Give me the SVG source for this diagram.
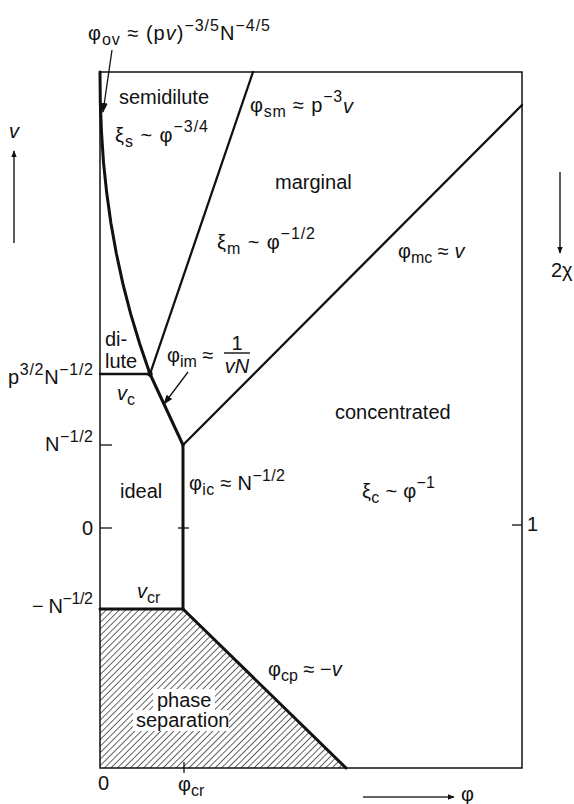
<svg xmlns="http://www.w3.org/2000/svg" width="574" height="804" viewBox="0 0 574 804">
<style>
.t{font-family:"Liberation Sans",Arial,Helvetica,sans-serif;font-size:20px;fill:#111}
.s{font-size:16px}
.i{font-style:italic}
.frame{fill:none;stroke:#111;stroke-width:1.5}
.b{fill:none;stroke:#111;stroke-width:2.3;stroke-linecap:round}
.bb{fill:none;stroke:#111;stroke-width:3;stroke-linecap:round}
.thin{fill:none;stroke:#111;stroke-width:1.3}
.ax{fill:none;stroke:#333;stroke-width:1.6}
</style>
<defs>
<pattern id="hatch" patternUnits="userSpaceOnUse" width="4.6" height="4.6" patternTransform="rotate(45)">
<line x1="0" y1="0" x2="0" y2="4.6" stroke="#111" stroke-width="1.3"/>
</pattern>
<marker id="ah" viewBox="0 0 10 10" refX="9" refY="5" markerWidth="7" markerHeight="7" markerUnits="userSpaceOnUse" orient="auto">
<path d="M0,1 L10,5 L0,9 Z" fill="#111"/>
</marker>
<marker id="ah2" viewBox="0 0 10 10" refX="9" refY="5" markerWidth="10" markerHeight="10" markerUnits="userSpaceOnUse" orient="auto">
<path d="M0,1.5 L10,5 L0,8.5 Z" fill="#111"/>
</marker>
</defs>

<g id="phase-separation">
<polygon points="100,609 183,609 346,768 100,768" fill="url(#hatch)"/>
<rect x="153" y="689" width="62" height="22" fill="#fff"/>
<rect x="133" y="710" width="96" height="21" fill="#fff"/>
</g>

<g id="frame">
<rect class="frame" x="100" y="72" width="422" height="696"/>
</g>

<g id="connectors">
<path class="bb" d="M150,374 L139.7,343.8 L130.6,313.6 L122.8,283.4 L116.3,253.2 L110.9,223 L106.7,192.8 L103.5,162.6 L101.5,132.4 L100.3,102.2 L100,72"/>
<line class="b" x1="253" y1="72" x2="150" y2="374"/>
<line class="b" x1="100" y1="374" x2="150" y2="374"/>
<line class="bb" x1="150" y1="374" x2="183" y2="445"/>
<line class="b" x1="183" y1="445" x2="522" y2="105"/>
<line class="bb" x1="183" y1="445" x2="183" y2="609"/>
<line class="bb" x1="100" y1="609" x2="183" y2="609"/>
<line class="bb" x1="183" y1="609" x2="346" y2="768"/>
<circle cx="150" cy="374" r="2.7" fill="#111"/>
<line class="thin" x1="100" y1="445" x2="112" y2="445"/>
<line class="thin" x1="100" y1="528" x2="112" y2="528"/>
<line class="thin" x1="178" y1="528" x2="189" y2="528"/>
<line class="thin" x1="512" y1="525" x2="522" y2="525"/>
<line class="thin" x1="184" y1="762" x2="184" y2="773"/>
<line class="thin" x1="112" y1="50" x2="103" y2="112" marker-end="url(#ah2)"/>
<line class="thin" x1="188" y1="372" x2="164" y2="404" marker-end="url(#ah2)"/>
<line class="ax" x1="14" y1="243" x2="14" y2="151" marker-end="url(#ah)"/>
<line class="ax" x1="560" y1="172" x2="560" y2="253" marker-end="url(#ah)"/>
<line class="ax" x1="363" y1="797" x2="454" y2="797" marker-end="url(#ah)"/>
</g>

<g id="labels">
<text class="t" x="88" y="40" textLength="182" lengthAdjust="spacing">φ<tspan class="s" dy="5">ov</tspan><tspan dy="-5"> ≈ (p</tspan><tspan class="i">v</tspan>)<tspan class="s" dy="-9">−3/5</tspan><tspan dy="9">N</tspan><tspan class="s" dy="-9">−4/5</tspan></text>
<text class="t" x="119" y="104">semidilute</text>
<text class="t" x="115" y="142" textLength="93" lengthAdjust="spacing">ξ<tspan class="s" dy="5">s</tspan><tspan dy="-5"> ~ φ</tspan><tspan class="s" dy="-10">−3/4</tspan></text>
<text class="t" x="250" y="112" textLength="103" lengthAdjust="spacing">φ<tspan class="s" dy="5">sm</tspan><tspan dy="-5"> ≈ p</tspan><tspan class="s" dy="-10">−3</tspan><tspan class="i" dy="11">v</tspan></text>
<text class="t" x="275" y="189">marginal</text>
<text class="t" x="217" y="249" textLength="98" lengthAdjust="spacing">ξ<tspan class="s" dy="5">m</tspan><tspan dy="-5"> ~ φ</tspan><tspan class="s" dy="-10">−1/2</tspan></text>
<text class="t" x="398" y="258">φ<tspan class="s" dy="5">mc</tspan><tspan dy="-5"> ≈ </tspan><tspan class="i">v</tspan></text>
<text class="t" x="551" y="277">2χ</text>
<text class="t i" x="9" y="138">v</text>
<text class="t" x="105" y="346">di-</text>
<text class="t" x="105" y="368">lute</text>
<text class="t" x="8" y="384" textLength="85" lengthAdjust="spacing">p<tspan class="s" dy="-9">3/2</tspan><tspan dy="9">N</tspan><tspan class="s" dy="-9">−1/2</tspan></text>
<text class="t" x="117" y="400"><tspan class="i">v</tspan><tspan class="s" dy="5">c</tspan></text>
<text class="t" x="167" y="362">φ<tspan class="s" dy="5">im</tspan><tspan dy="-5"> ≈</tspan></text>
<text class="t" x="237" y="350" text-anchor="middle">1</text>
<line x1="224" y1="353" x2="250" y2="353" stroke="#111" stroke-width="1.4"/>
<text class="t i" x="237" y="373" text-anchor="middle">vN</text>
<text class="t" x="45" y="451" textLength="48" lengthAdjust="spacing">N<tspan class="s" dy="-9">−1/2</tspan></text>
<text class="t" x="120" y="498">ideal</text>
<text class="t" x="189" y="490" textLength="96" lengthAdjust="spacing">φ<tspan class="s" dy="5">ic</tspan><tspan dy="-5"> ≈ N</tspan><tspan class="s" dy="-9">−1/2</tspan></text>
<text class="t" x="335" y="419">concentrated</text>
<text class="t" x="362" y="498" textLength="73" lengthAdjust="spacing">ξ<tspan class="s" dy="5">c</tspan><tspan dy="-5"> ~ φ</tspan><tspan class="s" dy="-10">−1</tspan></text>
<text class="t" x="527" y="531">1</text>
<text class="t" x="93" y="535" text-anchor="end">0</text>
<text class="t" x="32" y="613" textLength="61" lengthAdjust="spacing">− N<tspan class="s" dy="-9">−1/2</tspan></text>
<text class="t" x="137" y="598"><tspan class="i">v</tspan><tspan class="s" dy="5">cr</tspan></text>
<text class="t" x="268" y="676">φ<tspan class="s" dy="5">cp</tspan><tspan dy="-5"> ≈ −</tspan><tspan class="i">v</tspan></text>
<text class="t" x="157" y="707">phase</text>
<text class="t" x="136" y="727">separation</text>
<text class="t" x="98" y="790">0</text>
<text class="t" x="178" y="791">φ<tspan class="s" dy="5">cr</tspan></text>
<text class="t" x="461" y="801">φ</text>
</g>
</svg>
